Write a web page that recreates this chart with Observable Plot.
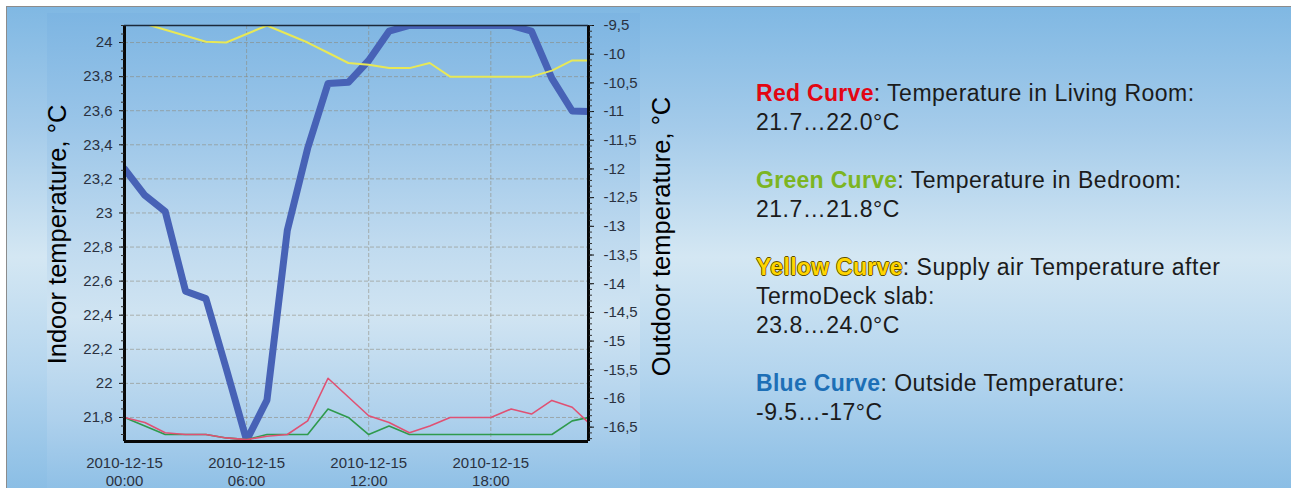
<!DOCTYPE html>
<html>
<head>
<meta charset="utf-8">
<script src="https://cdn.jsdelivr.net/npm/d3@7"></script>
<script src="https://cdn.jsdelivr.net/npm/@observablehq/plot@0.6"></script>
<style>
html, body { margin: 0; padding: 0; background: #fff; }
#page { position: relative; width: 1291px; height: 488px; overflow: hidden; background: #fff; font-family: "Liberation Sans", Arial, sans-serif; }
#bg { position: absolute; left: 6px; top: 6px; right: 0; bottom: 0; border-top: 1px solid #8c8c8c; border-left: 1px solid #8c8c8c;
  background: linear-gradient(to bottom, #80b8e3 0%, #a4cbea 25%, #d4e7f3 52%, #b4d5ee 76%, #8bbee5 100%); }
#chartbox { position: absolute; left: 47px; top: 13px; width: 593px; height: 475px;
  background: linear-gradient(to bottom, #7db5e2 0%, #98c4e8 22%, #bfdaef 48%, #d0e4f2 64%, #add0ec 86%, #8fc0e6 100%); }
#chart { position: absolute; left: 0; top: 0; }
#legend { position: absolute; left: 756px; top: 79px; font-size: 23px; letter-spacing: 0.5px; line-height: 29px; color: #1b1b1b; white-space: nowrap; }
#legend b { font-weight: bold; letter-spacing: 0.3px; }
.red { color: #e30613; }
.green { color: #7cb522; }
.yellow { color: #ffd500; text-shadow: -0.8px 0 #5e5000, 0.8px 0 #5e5000, 0 -0.8px #5e5000, 0 0.8px #5e5000; }
.blue { color: #1d6fb6; }
</style>
</head>
<body>
<div id="page">
  <div id="bg"></div>
  <div id="chartbox"></div>
  <div id="chart"></div>
  <div id="legend">
    <div><b class="red">Red Curve</b>: Temperature in Living Room:</div>
    <div>21.7…22.0°C</div>
    <div>&nbsp;</div>
    <div><b class="green">Green Curve</b>: Temperature in Bedroom:</div>
    <div>21.7…21.8°C</div>
    <div>&nbsp;</div>
    <div><b class="yellow">Yellow Curve</b>: Supply air Temperature after</div>
    <div>TermoDeck slab:</div>
    <div>23.8…24.0°C</div>
    <div>&nbsp;</div>
    <div><b class="blue">Blue Curve</b>: Outside Temperature:</div>
    <div>-9.5…-17°C</div>
  </div>
</div>
<script>
// ---- data ----
const day = "2010-12-15";
const hours = ["00:00","01:00","02:00","03:00","04:00","05:00","06:00","07:00","08:00","09:00","10:00","11:00",
               "12:00","13:00","14:00","15:00","16:00","17:00","18:00","19:00","20:00","21:00","22:00","22:48"];
// Blue curve: outside temperature (right axis, °C)
const outdoorTemp = [-12.0,-12.46,-12.74,-14.13,-14.26,-15.48,-16.73,-16.03,-13.07,-11.64,-10.51,-10.49,
                     -10.11,-9.6,-9.5,-9.5,-9.5,-9.5,-9.5,-9.5,-9.6,-10.42,-10.99,-11.0];
// Yellow curve: supply air after TermoDeck slab (left axis)
const supplyAir = [24.14,24.11,24.075,24.04,24.005,24.0,24.05,24.1,24.05,24.0,23.94,23.88,
                   23.87,23.85,23.85,23.88,23.8,23.8,23.8,23.8,23.8,23.835,23.895,23.895];
// Red curve: living room (left axis)
const livingRoom = [21.8,21.77,21.71,21.7,21.7,21.68,21.67,21.69,21.7,21.78,22.03,21.92,
                    21.81,21.77,21.71,21.75,21.8,21.8,21.8,21.85,21.82,21.9,21.86,21.77];
// Green curve: bedroom (left axis)
const bedroom = [21.8,21.75,21.7,21.7,21.7,21.68,21.67,21.7,21.7,21.7,21.85,21.8,
                 21.7,21.75,21.7,21.7,21.7,21.7,21.7,21.7,21.7,21.7,21.78,21.8];
const xTickLabels = ["00:00","06:00","12:00","18:00"];
const indoorTicks = [21.8,22,22.2,22.4,22.6,22.8,23,23.2,23.4,23.6,23.8,24];
const outdoorTicks = [-16.5,-16,-15.5,-15,-14.5,-14,-13.5,-13,-12.5,-12,-11.5,-11,-10.5,-10,-9.5];
const indoorDomain = [21.659, 24.1];
const outdoorDomain = [-16.75, -9.5];
const xStart = "00:00", xEnd = "22:48";

// ---- helpers ----
const parse = d3.timeParse("%Y-%m-%d %H:%M");
const t = h => parse(day + " " + h);
const toLeft = d3.scaleLinear().domain(outdoorDomain).range(indoorDomain);
const toOut = toLeft.copy().domain(indoorDomain).range(outdoorDomain);
const fmt = v => (Math.round(v * 10) / 10).toString().replace(".", ",");
const minorLeft = d3.range(21.7, 24.1, 0.05);
const minorRight = d3.range(-16.7, -9.45, 0.1);

const rows = hours.map((h, i) => ({
  t: t(h), out: toLeft(outdoorTemp[i]), sup: supplyAir[i], liv: livingRoom[i], bed: bedroom[i]
}));

const ink = "#2a3140";
const gridStyle = {stroke: "#8d8676", strokeOpacity: 0.55, strokeDasharray: "4,2", strokeWidth: 1};

const chart = Plot.plot({
  width: 700, height: 488,
  marginTop: 25, marginBottom: 47, marginLeft: 124, marginRight: 112,
  style: {background: "transparent", fontFamily: "'Liberation Sans', Arial, sans-serif", fontSize: "15px", color: ink, overflow: "visible"},
  x: {type: "time", domain: [t(xStart), t(xEnd)], axis: null},
  y: {domain: indoorDomain},
  marks: [
    Plot.gridY(indoorTicks, gridStyle),
    Plot.gridX(xTickLabels.map(t), gridStyle),
    Plot.lineY(rows, {x: "t", y: "out", stroke: "#4762b6", strokeWidth: 7, clip: true, strokeLinejoin: "round"}),
    Plot.lineY(rows, {x: "t", y: "sup", stroke: "#e8e856", strokeWidth: 2, clip: true}),
    Plot.lineY(rows, {x: "t", y: "bed", stroke: "#2f9a4d", strokeWidth: 1.6, clip: true}),
    Plot.lineY(rows, {x: "t", y: "liv", stroke: "#e05173", strokeWidth: 1.6, clip: true}),
    Plot.ruleX([t(xStart), t(xEnd)], {stroke: "#080808", strokeWidth: 3}),
    Plot.ruleY([indoorDomain[0]], {stroke: "#080808", strokeWidth: 3}),
    Plot.ruleY([indoorDomain[1]], {stroke: "#1c2a3a", strokeWidth: 1.5}),
    Plot.axisY(indoorTicks, {anchor: "left", tickSize: 5, tickPadding: 7, tickFormat: fmt, label: null, fill: ink, stroke: "#111", fontSize: 15}),
    Plot.axisY(minorLeft, {anchor: "left", tickSize: 3, tickFormat: () => "", label: null, stroke: "#333"}),
    Plot.axisY(outdoorTicks.map(toLeft), {anchor: "right", tickSize: 5, tickPadding: 10, tickFormat: d => fmt(toOut(d)), label: null, fill: ink, stroke: "#111", fontSize: 15}),
    Plot.axisY(minorRight.map(toLeft), {anchor: "right", tickSize: 3, tickFormat: () => "", label: null, stroke: "#333"}),
    Plot.text(xTickLabels, {x: d => t(d), frameAnchor: "bottom", text: d => day + "\n" + d, lineAnchor: "top", dy: 14, lineHeight: 1.2, fill: ink, fontSize: 15}),
    Plot.text(["Indoor temperature, °C"], {frameAnchor: "left", textAnchor: "middle", text: d => d, rotate: -90, dx: -67, dy: 1, fontSize: 25.5, fill: "#000"}),
    Plot.text(["Outdoor temperature, °C"], {frameAnchor: "right", textAnchor: "middle", text: d => d, rotate: -90, dx: 73, dy: 3, fontSize: 25.5, fill: "#000"})
  ]
});
document.getElementById("chart").appendChild(chart);
</script>
</body>
</html>
